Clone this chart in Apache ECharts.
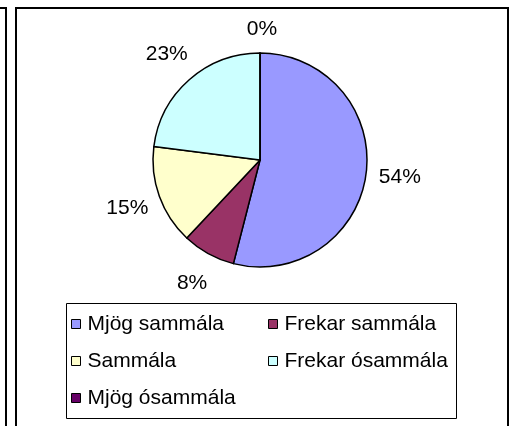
<!DOCTYPE html>
<html>
<head>
<meta charset="utf-8">
<script src="https://cdn.jsdelivr.net/npm/echarts@6/dist/echarts.min.js"></script>
<style>
html,body{margin:0;padding:0;background:#fff;}
#chart{width:509px;height:426px;}
</style>
</head>
<body>
<div id="chart"></div>
<script>
const categories = ['Mjög sammála', 'Frekar sammála', 'Sammála', 'Frekar ósammála', 'Mjög ósammála'];
const values = [54, 8, 15, 23, 0];
const colors = ['#9999FF', '#993366', '#FFFFCC', '#CCFFFF', '#660066'];
const legendCol1 = ['Mjög sammála', 'Sammála', 'Mjög ósammála'];
const legendCol2 = ['Frekar sammála', 'Frekar ósammála'];

const FONT = '"Liberation Sans", Arial, sans-serif';
const data = categories.map((c, i) => ({ name: c, value: values[i] }));
const labelData = categories.map((c, i) => values[i] === 0
  ? { name: c, value: values[i], label: { offset: [2, 10] } }
  : { name: c, value: values[i] });

const chart = echarts.init(document.getElementById('chart'), null, { renderer: 'canvas' });

const legendCommon = {
  orient: 'vertical',
  top: 312,
  padding: 0,
  itemGap: 13,
  itemWidth: 9,
  itemHeight: 9,
  icon: 'rect',
  selectedMode: false,
  itemStyle: { borderColor: '#000', borderWidth: 1 },
  textStyle: { fontFamily: FONT, fontSize: 21, color: '#000', lineHeight: 24, padding: [0, 0, 0, 2] }
};

chart.setOption({
  animation: false,
  color: colors,
  legend: [
    Object.assign({}, legendCommon, { left: 71, data: legendCol1 }),
    Object.assign({}, legendCommon, { left: 268, data: legendCol2 })
  ],
  graphic: [
    { type: 'line', shape: { x1: 0, y1: 8, x2: 7, y2: 8 }, style: { stroke: '#000', lineWidth: 2 }, silent: true },
    { type: 'line', shape: { x1: 6, y1: 7, x2: 6, y2: 430 }, style: { stroke: '#000', lineWidth: 2 }, silent: true },
    { type: 'line', shape: { x1: 16, y1: 8, x2: 508, y2: 8 }, style: { stroke: '#000', lineWidth: 2 }, silent: true },
    { type: 'line', shape: { x1: 16, y1: 7, x2: 16, y2: 430 }, style: { stroke: '#000', lineWidth: 2 }, silent: true },
    { type: 'line', shape: { x1: 508, y1: 7, x2: 508, y2: 430 }, style: { stroke: '#000', lineWidth: 2 }, silent: true },
    { type: 'rect', shape: { x: 66.5, y: 303.5, width: 390, height: 115 }, style: { fill: 'none', stroke: '#000', lineWidth: 1 }, silent: true }
  ],
  series: [
    {
      type: 'pie',
      center: [260, 160],
      radius: [0, 107],
      startAngle: 90,
      clockwise: true,
      avoidLabelOverlap: false,
      silent: true,
      label: { show: false },
      labelLine: { show: false },
      itemStyle: { borderColor: '#000', borderWidth: 1.5 },
      emphasis: { disabled: true },
      data: data
    },
    {
      type: 'pie',
      center: [260, 160],
      radius: [130, 146],
      startAngle: 90,
      clockwise: true,
      avoidLabelOverlap: false,
      silent: true,
      itemStyle: { color: 'rgba(0,0,0,0)', borderWidth: 0 },
      labelLine: { show: false },
      emphasis: { disabled: true },
      label: {
        show: true,
        position: 'inside',
        fontFamily: FONT,
        fontSize: 21,
        color: '#000',
        formatter: function (p) { return Math.round(p.percent) + '%'; }
      },
      data: labelData
    }
  ]
});
</script>
</body>
</html>
